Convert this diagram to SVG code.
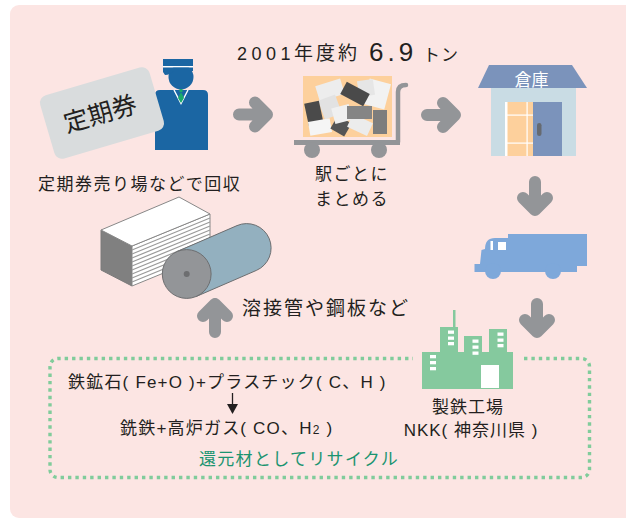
<svg xmlns="http://www.w3.org/2000/svg" width="626" height="521" viewBox="0 0 626 521">
  <style>
    .t { font-family: "Liberation Sans", "Noto Sans CJK JP", sans-serif; fill: #231f20; }
    .arrow { fill: none; stroke: #939598; stroke-width: 12; stroke-linecap: round; stroke-linejoin: round; }
    .paper-l { fill: #ededed; }
    .paper-d { fill: #4a4a4a; }
    .paper-m { fill: #858585; }
    .bldg { fill: #85c99e; }
    .win { fill: #ffffff; }
  </style>
  <defs>
    <path id="arw" d="M-14,0 H14 M2,-12 L14,0 L2,12"/>
  </defs>

  <!-- background panel -->
  <rect x="10" y="5" width="626" height="513" rx="9" fill="#fce5e3"/>

  <!-- ticket counter: station clerk with commuter pass -->
  <g id="clerk">
    <circle cx="181" cy="77" r="12.5" fill="#1b66a3"/>
    <rect x="163" y="59" width="30" height="7" fill="#1b66a3"/>
    <rect x="163" y="66" width="30" height="1.6" fill="#ffffff"/>
    <path d="M163,67.6 H193 V71 H174 Q170,75 165,75 L163,72 Z" fill="#1b66a3"/>
    <path d="M155,95 Q155,90 160,90 H203 Q208,90 208,95 V150 H155 Z" fill="#1b66a3"/>
    <path d="M174,90 L181,103.5 L188,90" fill="none" stroke="#ffffff" stroke-width="1.4"/>
    <rect x="179.5" y="89" width="3" height="3" fill="#1aab6b"/>
    <path d="M181,92 L184,98 L181,103 L178,98 Z" fill="#1aab6b"/>
  </g>
  <g id="pass">
    <g transform="translate(102,113) rotate(-16.4)">
      <rect x="-57" y="-33" width="114" height="66" rx="8" fill="#d9dcdd"/>
      <text class="t" x="-2" y="9" font-size="25" text-anchor="middle">定期券</text>
    </g>
  </g>
  <text class="t" x="38" y="190" font-size="17" letter-spacing="1.5">定期券売り場などで回収</text>

  <!-- yearly amount -->
  <g id="amount">
    <text class="t" x="237" y="60" font-size="18" letter-spacing="4.5">2001</text>
    <text class="t" x="294" y="60" font-size="19" letter-spacing="3">年度約</text>
    <text class="t" x="369" y="61" font-size="26" letter-spacing="4">6.9</text>
    <text class="t" x="423" y="61" font-size="17" letter-spacing="1">トン</text>
  </g>

  <!-- hand cart with collected passes -->
  <g id="cart">
    <rect x="303" y="76" width="89" height="61" fill="#fdd09c"/>
    <g transform="translate(330,90) rotate(-17)"><rect x="-13" y="-8" width="26" height="16" class="paper-l"/></g>
    <g transform="translate(330,107) rotate(-20)"><rect x="-9" y="-10" width="18" height="20" fill="#e2e2e2"/></g>
    <g transform="translate(377,94) rotate(15)"><rect x="-11" y="-13" width="22" height="26" fill="#f2f2f2"/></g>
    <g transform="translate(366,88) rotate(-8)"><rect x="-8" y="-8" width="16" height="16" fill="#e6e6e6"/></g>
    <g transform="translate(355,94) rotate(28)"><rect x="-13" y="-7" width="26" height="14" class="paper-d"/></g>
    <g transform="translate(314,114) rotate(-12)"><rect x="-7.5" y="-12" width="15" height="24" class="paper-d"/></g>
    <g transform="translate(320,127) rotate(-10)"><rect x="-11" y="-7" width="22" height="14" fill="#f5f5f5"/></g>
    <g transform="translate(341,126) rotate(30)"><rect x="-8" y="-7.5" width="16" height="15" fill="#555555"/></g>
    <g transform="translate(342,114) rotate(-15)"><rect x="-9" y="-8" width="18" height="16" fill="#f0f0f0"/></g>
    <g transform="translate(360,125) rotate(25)"><rect x="-11" y="-7" width="22" height="14" fill="#ececec"/></g>
    <rect x="347" y="106" width="25" height="13" class="paper-m"/>
    <rect x="373" y="110" width="14" height="24" fill="#7d7d7d"/>
    <rect x="294" y="140" width="106" height="5" fill="#939598"/>
    <path d="M398,142 V92 Q398,85 406,85" fill="none" stroke="#939598" stroke-width="4.5" stroke-linecap="round"/>
    <circle cx="312" cy="150" r="8" fill="#939598"/>
    <circle cx="379" cy="150" r="8" fill="#939598"/>
  </g>
  <text class="t" x="315" y="180" font-size="17" letter-spacing="1.5">駅ごとに</text>
  <text class="t" x="315" y="205" font-size="17" letter-spacing="1.5">まとめる</text>

  <!-- warehouse -->
  <g id="warehouse">
    <polygon points="489,65 572,65 587,88 478,88" fill="#7b93bb"/>
    <text x="531.5" y="86" font-size="17" text-anchor="middle" fill="#ffffff" font-family="Liberation Sans, Noto Sans CJK JP, sans-serif">倉庫</text>
    <rect x="491" y="88" width="85" height="68" fill="#c9dce4"/>
    <rect x="505" y="102" width="28" height="54" fill="#fdd09c"/>
    <rect x="505" y="102" width="2.5" height="54" fill="#ffffff"/>
    <rect x="526.5" y="102" width="1.2" height="54" fill="#ffffff"/>
    <rect x="507" y="114.5" width="26" height="1.2" fill="#ffffff"/>
    <rect x="507" y="142.5" width="26" height="1.2" fill="#ffffff"/>
    <rect x="533" y="102" width="29" height="54" fill="#7b93bb"/>
    <rect x="537" y="123" width="4.5" height="13" rx="2.25" fill="#666a70"/>
  </g>

  <!-- truck -->
  <g id="truck">
    <path d="M474.5,264 L480,264 L481.5,250 L485,249 Q485,238 495,238 L508,238 L508,234 L587,234 L587,266 L577,266 L577,272 L474.5,272 Z" fill="#7ea8da"/>
    <circle cx="493" cy="271" r="8" fill="#7ea8da"/>
    <circle cx="553" cy="271" r="8" fill="#7ea8da"/>
    <rect x="490.5" y="241" width="2.5" height="9" fill="#ffffff"/>
    <rect x="498" y="242" width="8" height="8" fill="#ffffff"/>
  </g>

  <!-- steel works -->
  <g id="steelworks">
    <rect x="453" y="310" width="2.5" height="17" class="bldg"/>
    <rect x="422" y="352" width="91" height="37" class="bldg"/>
    <rect x="440" y="327" width="18" height="62" class="bldg"/>
    <rect x="464" y="336" width="18" height="53" class="bldg"/>
    <rect x="489" y="329" width="18" height="60" class="bldg"/>
    <rect x="481" y="365" width="18" height="23" class="win"/>
    <rect x="430" y="355" width="6" height="3.3" class="win"/>
    <rect x="430" y="361" width="6" height="3.3" class="win"/>
    <rect x="430" y="367" width="6" height="3.3" class="win"/>
    <rect x="448" y="330.5" width="6" height="3.3" class="win"/>
    <rect x="448" y="336.5" width="6" height="3.3" class="win"/>
    <rect x="448" y="342" width="6" height="3.3" class="win"/>
    <rect x="472.5" y="339.5" width="6" height="3.3" class="win"/>
    <rect x="472.5" y="345.5" width="6" height="3.3" class="win"/>
    <rect x="472.5" y="351.5" width="6" height="3.3" class="win"/>
    <rect x="497.5" y="332.5" width="6" height="3.3" class="win"/>
    <rect x="497.5" y="338.5" width="6" height="3.3" class="win"/>
    <rect x="497.5" y="344" width="6" height="3.3" class="win"/>
  </g>
  <text class="t" x="468" y="413" font-size="17" letter-spacing="1" text-anchor="middle">製鉄工場</text>
  <text class="t" x="471" y="436" font-size="17" letter-spacing="1" text-anchor="middle">NKK( 神奈川県 )</text>

  <!-- steel products: sheet stack and coil -->
  <g id="products">
    <polygon points="101,230 132,246 132,286 101,270" fill="#808080" stroke="#7a7a7a" stroke-width="1"/>
    <polygon points="132,246 210,214 210,254 132,286" fill="#ffffff" stroke="#888888" stroke-width="1"/>
    <g stroke="#9a9a9a" stroke-width="1.2">
      <line x1="132" y1="250" x2="210" y2="218"/>
      <line x1="132" y1="254" x2="210" y2="222"/>
      <line x1="132" y1="258" x2="210" y2="226"/>
      <line x1="132" y1="262" x2="210" y2="230"/>
      <line x1="132" y1="266" x2="210" y2="234"/>
      <line x1="132" y1="270" x2="210" y2="238"/>
      <line x1="132" y1="274" x2="210" y2="242"/>
      <line x1="132" y1="278" x2="210" y2="246"/>
      <line x1="132" y1="282" x2="210" y2="250"/>
    </g>
    <polygon points="101,230 179,197 210,214 132,246" fill="#ffffff" stroke="#888888" stroke-width="1"/>
    <path d="M177,251.6 L237,225.6 A24.4,24.4 0 0,1 256.4,270.4 L196.4,296.4 Z" fill="#93b0bf" stroke="#6d6e70" stroke-width="1"/>
    <circle cx="186.7" cy="274" r="24.4" fill="#939598" stroke="#6d6e70" stroke-width="1"/>
    <circle cx="186.7" cy="274" r="3" fill="#6d6e70"/>
  </g>
  <text class="t" x="242" y="315" font-size="19" letter-spacing="2">溶接管や鋼板など</text>

  <!-- reduction process box -->
  <g id="process">
    <path d="M524,358.5 H581.5 A8,8 0 0 1 589.5,366.5 V469.5 A8,8 0 0 1 581.5,477.5 H58 A8,8 0 0 1 50,469.5 V366.5 A8,8 0 0 1 58,358.5 H413" fill="none" stroke="#80cc9b" stroke-width="3.4" stroke-dasharray="3.4 4"/>
    <text class="t" x="68" y="388" font-size="17" letter-spacing="1.2">鉄鉱石( Fe+O )+プラスチック( C、H )</text>
    <line x1="232.5" y1="393" x2="232.5" y2="406" stroke="#231f20" stroke-width="1.3"/>
    <polygon points="227,404 238,404 232.5,414" fill="#231f20"/>
    <text class="t" x="120" y="434" font-size="17" letter-spacing="1.2">銑鉄+高炉ガス( CO、H<tspan font-size="12">2</tspan> )</text>
    <text x="199" y="465" font-size="17" letter-spacing="1.3" fill="#1a9470" font-family="Liberation Sans, Noto Sans CJK JP, sans-serif">還元材としてリサイクル</text>
  </g>

  <!-- flow arrows -->
  <g id="connectors">
    <use href="#arw" class="arrow" transform="translate(253,114.5)"/>
    <use href="#arw" class="arrow" transform="translate(441,115)"/>
    <use href="#arw" class="arrow" transform="translate(535,196) rotate(90)"/>
    <use href="#arw" class="arrow" transform="translate(537,318) rotate(90)"/>
    <use href="#arw" class="arrow" transform="translate(215,318) rotate(-90)"/>
  </g>
</svg>
